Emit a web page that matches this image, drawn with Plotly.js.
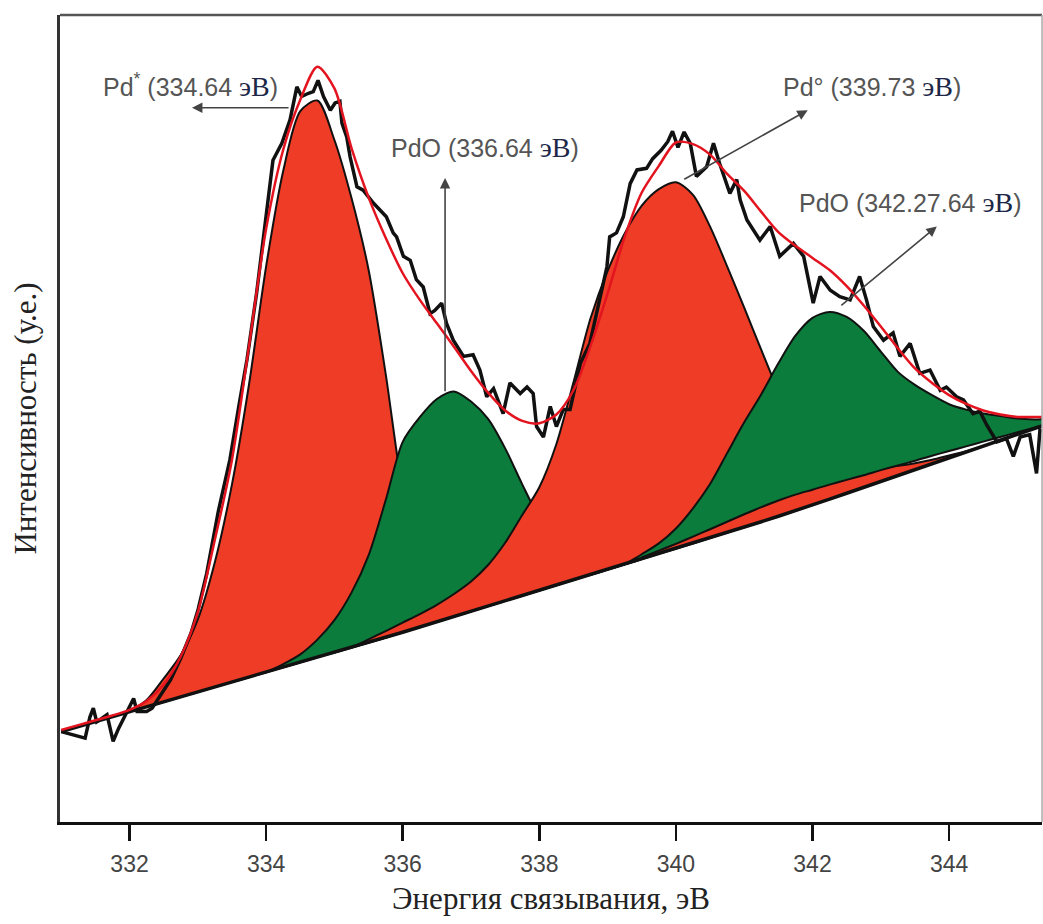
<!DOCTYPE html>
<html>
<head>
<meta charset="utf-8">
<script src="https://cdn.plot.ly/plotly-3.0.1.min.js"></script>
<style>
  html, body { margin: 0; padding: 0; background: #ffffff; }
  #chart { width: 1043px; height: 924px; }
</style>
</head>
<body>
<div id="chart"></div>
<script>
// ---- energy grid (eV) used by baseline, envelope and fitted components ----
const energyGrid = [331.00,331.25,331.50,331.75,332.00,332.25,332.50,332.75,333.00,333.25,
  333.50,333.75,334.00,334.25,334.50,334.75,335.00,335.25,335.50,335.75,
  336.00,336.25,336.50,336.75,337.00,337.25,337.50,337.75,338.00,338.25,
  338.50,338.75,339.00,339.25,339.50,339.75,340.00,340.25,340.50,340.75,
  341.00,341.25,341.50,341.75,342.00,342.25,342.50,342.75,343.00,343.25,
  343.50,343.75,344.00,344.25,344.50,344.75,345.00,345.25,345.50];

// linear background (arb. units)
const baseline = [11.20,11.81,12.43,13.04,13.65,14.26,14.88,15.49,16.10,16.72,
  17.33,17.94,18.56,19.17,19.78,20.40,21.01,21.62,22.24,22.86,
  23.51,24.16,24.81,25.45,26.10,26.75,27.40,28.04,28.69,29.34,
  29.99,30.63,31.28,31.93,32.58,33.22,33.87,34.52,35.18,35.86,
  36.53,37.21,37.89,38.57,39.28,40.01,40.74,41.47,42.20,42.93,
  43.66,44.39,45.12,45.85,46.58,47.31,48.04,48.77,49.50];

// fitted component heights above background
const pd334 = [0,0,0,0,0,0.85,2.9,5.2,9.0,15.5,
  24.5,36.3,50.3,61.5,68.3,69.0,63.5,55.7,46.2,32.7,
  17.5,7.8,3.7,1.5,0.6,0.2,0,0,0,0,
  0,0,0,0,0,0,0,0,0,0,
  0,0,0,0,0,0,0,0,0,0,
  0,0,0,0,0,0,0,0,0];
const pdo336 = [0,0,0,0,0,0,0,0,0,0,
  0,0,0,0.4,1.0,2.2,4.0,6.8,10.8,17.0,
  23.6,26.0,27.6,27.9,26.0,23.2,18.9,13.8,9.0,5.4,
  3.0,1.5,0.6,0.2,0,0,0,0,0,0,
  0,0,0,0,0,0,0,0,0,0,
  0,0,0,0,0,0,0,0,0];
const pd340 = [0,0,0,0,0,0,0,0,0,0,
  0,0,0,0,0,0,0,0,0.4,0.8,
  1.2,1.6,2.1,2.8,3.7,5.1,7.2,10.0,12.8,17.5,
  24.5,31.8,37.0,41.0,43.8,45.2,45.4,43.2,38.6,33.0,
  27.2,21.3,15.5,10.5,6.8,4.4,3.0,2.2,1.7,1.2,
  0.8,0.5,0.3,0.1,0,0,0,0,0];
const pdo342 = [0,0,0,0,0,0,0,0,0,0,
  0,0,0,0,0,0,0,0,0,0,
  0,0,0,0,0,0,0,0,0,0,
  0,0,0,0,0.4,0.9,1.9,3.5,5.6,8.5,
  11.4,14.0,17.0,19.7,21.3,21.4,20.2,17.9,14.7,11.6,
  9.4,7.5,5.8,4.55,3.5,2.6,1.7,1.0,0.4];
const pdo342Offset = [0,0,0,0,0,0,0,0,0,0,
  0,0,0,0,0,0,0,0,0,0,
  0,0,0,0,0,0,0,0,0,0,
  0,0,0,0,0.2,0.4,0.6,0.85,1.1,1.35,
  1.6,1.8,1.95,2.0,1.9,1.8,1.65,1.5,1.4,1.25,
  1.1,1.0,0.85,0.7,0.55,0.4,0.25,0.1,0];

// fitted envelope
const envelope = [11.4,12.0,12.6,13.2,13.9,15.0,17.0,20.5,26.0,35.0,
  44.9,59.0,73.5,83.3,89.5,93.6,90.9,83.5,77.4,72.4,
  68.0,64.7,61.8,58.9,55.9,53.2,51.0,49.7,49.4,50.5,
  53.5,59.0,65.5,72.5,78.0,81.3,84.2,84.0,82.7,80.3,
  78.2,75.6,73.1,71.4,69.9,68.4,66.4,64.0,61.4,58.7,
  56.2,54.4,52.9,51.8,51.0,50.5,50.2,50.2,50.2];

// measured spectrum
const dataEnergy = [331.00,331.20,331.35,331.42,331.47,331.52,331.67,331.76,331.84,331.93,
  332.06,332.11,332.25,332.33,332.45,332.60,332.75,332.90,333.00,333.13,
  333.30,333.47,333.60,333.72,333.86,333.98,334.10,334.23,334.35,334.45,
  334.52,334.62,334.69,334.76,334.84,334.94,335.01,335.08,335.11,335.18,
  335.23,335.33,335.42,335.57,335.66,335.76,335.86,335.91,336.01,336.11,
  336.20,336.30,336.40,336.47,336.57,336.64,336.74,336.89,337.03,337.13,
  337.23,337.33,337.47,337.57,337.72,337.82,337.91,337.96,338.06,338.16,
  338.25,338.35,338.45,338.60,338.74,338.89,338.99,339.03,339.13,339.23,
  339.33,339.43,339.57,339.66,339.78,339.88,339.95,340.03,340.12,340.21,
  340.30,340.45,340.55,340.64,340.79,340.89,340.94,341.04,341.23,341.38,
  341.52,341.72,341.87,342.01,342.11,342.26,342.40,342.55,342.69,342.79,
  342.89,343.04,343.18,343.28,343.43,343.57,343.72,343.87,343.96,344.11,
  344.21,344.35,344.45,344.55,344.70,344.84,344.94,345.04,345.18,345.28,
  345.33,345.40];
const dataCounts = [11.2,10.8,10.4,13.0,14.1,12.4,13.3,10.0,11.6,13.1,
  15.3,13.7,13.7,14.1,15.6,17.6,20.3,23.4,26.2,30.8,
  38.5,44.9,51.5,57.3,65.5,73.8,82.0,84.1,87.0,91.1,
  89.9,90.3,90.5,91.9,89.9,88.2,89.1,89.3,86.6,84.9,
  82.4,78.7,78.3,76.7,75.9,75.0,73.0,72.5,70.1,69.6,
  67.2,66.3,63.0,63.4,64.3,61.8,59.7,57.7,57.9,56.0,
  52.7,53.7,50.6,54.4,53.1,53.9,53.1,49.0,47.7,51.5,
  49.0,51.1,51.1,56.8,59.3,65.1,68.8,72.5,73.0,75.0,
  79.1,80.8,81.0,82.2,83.2,84.3,85.6,83.6,85.5,84.1,
  80.0,81.2,84.1,81.6,77.9,79.6,77.1,74.6,72.1,73.8,
  70.1,71.7,70.1,64.3,67.6,65.9,65.1,64.7,67.6,64.7,
  61.4,59.7,60.6,57.7,59.3,55.6,56.0,53.5,53.9,52.7,
  52.3,50.6,50.9,49.2,47.1,47.5,45.3,47.7,48.0,43.2,
  48.6,48.3];

// peak labels
const labelTexts = ['Pd<sup>*</sup> (334.64 ', 'PdO (336.64 ', 'Pd° (339.73 ', 'PdO (342.27.64 '];
const labelX = [332.886, 337.20, 342.87, 343.43];
const labelY = [91.3, 83.6, 91.2, 76.8];
const arrowHeadX = [332.915, 336.62, 341.93, 343.82];
const arrowHeadY = [88.5, 79.8, 88.2, 73.8];
const arrowTailX = [334.35, 336.62, 340.10, 342.40];
const arrowTailY = [88.5, 53.2, 79.55, 63.85];

const RED = '#ee3c26';
const GREEN = '#0b7c3b';
const SANS = 'Liberation Sans, Arial, sans-serif';
const SERIF = 'Liberation Serif, Times New Roman, serif';

function componentPolygon(h, off) {
  const n = energyGrid.length;
  let i0 = h.findIndex(v => v > 0);
  let i1 = n - 1 - h.slice().reverse().findIndex(v => v > 0);
  i0 = Math.max(0, i0 - 1);
  i1 = Math.min(n - 1, i1 + 1);
  const xs = [], ys = [];
  for (let i = i0; i <= i1; i++) {
    xs.push(energyGrid[i]);
    ys.push(baseline[i] + (off ? off[i] : 0) + h[i]);
  }
  for (let i = i1; i >= i0; i--) {
    if ((i === i0 || i === i1) && h[i] === 0) continue;
    xs.push(energyGrid[i]);
    ys.push(baseline[i] + (off ? off[i] : 0));
  }
  return { xs, ys };
}

function compTrace(h, color, off) {
  const p = componentPolygon(h, off);
  return {
    x: p.xs, y: p.ys, type: 'scatter', mode: 'lines',
    fill: 'toself', fillcolor: color,
    line: { color: '#111', width: 2, shape: 'spline', smoothing: 0.8 },
    hoverinfo: 'skip', showlegend: false
  };
}

const traces = [
  compTrace(pd334, RED),
  compTrace(pdo336, GREEN),
  compTrace(pd340, RED),
  compTrace(pdo342, GREEN, pdo342Offset),
  { x: energyGrid, y: baseline, type: 'scatter', mode: 'lines',
    line: { color: '#111', width: 3.5 }, hoverinfo: 'skip', showlegend: false },
  { x: dataEnergy, y: dataCounts, type: 'scatter', mode: 'lines',
    line: { color: '#111', width: 3.5, shape: 'linear' }, hoverinfo: 'skip', showlegend: false },
  { x: energyGrid, y: envelope, type: 'scatter', mode: 'lines',
    line: { color: '#e3141f', width: 2.5, shape: 'spline', smoothing: 0.8 }, hoverinfo: 'skip', showlegend: false }
];

const annotations = [];
for (let i = 0; i < labelTexts.length; i++) {
  annotations.push({
    x: arrowHeadX[i], y: arrowHeadY[i], xref: 'x', yref: 'y',
    ax: arrowTailX[i], ay: arrowTailY[i], axref: 'x', ayref: 'y',
    text: '', showarrow: true, arrowhead: 2, arrowsize: 1.3, arrowwidth: 1.6,
    arrowcolor: '#444', standoff: 0, startstandoff: 0
  });
  annotations.push({
    x: labelX[i], y: labelY[i], xref: 'x', yref: 'y', showarrow: false,
    xanchor: 'center', yanchor: 'middle',
    text: labelTexts[i] + '<span style="font-family:Liberation Serif;font-size:28px;color:#1d2747">эВ</span>)',
    font: { family: SANS, size: 25, color: '#555555' }
  });
}

const layout = {
  width: 1043, height: 924,
  margin: { l: 60, r: 1, t: 15, b: 102 },
  paper_bgcolor: '#ffffff', plot_bgcolor: '#ffffff',
  showlegend: false,
  xaxis: {
    range: [330.982, 345.36], autorange: false,
    tickvals: [332, 334, 336, 338, 340, 342, 344],
    ticktext: ['332', '334', '336', '338', '340', '342', '344'],
    ticks: 'outside', ticklen: 16, tickwidth: 2.5, tickcolor: '#111',
    ticklabelstandoff: 3,
    tickfont: { family: SANS, size: 23, color: '#444444' },
    showline: true, linecolor: '#111', linewidth: 3,
    showgrid: false, zeroline: false,
    title: { text: 'Энергия связывания, эВ', font: { family: SERIF, size: 31, color: '#222222' }, standoff: 12 }
  },
  yaxis: {
    range: [0, 100], autorange: false,
    showticklabels: false, ticks: '',
    showline: true, linecolor: '#333', linewidth: 3,
    showgrid: false, zeroline: false,
    title: { text: 'Интенсивность (у.е.)', font: { family: SERIF, size: 31, color: '#222222' }, standoff: 12 }
  },
  shapes: [
    { type: 'line', xref: 'paper', yref: 'paper', x0: 0, x1: 1, y0: 1, y1: 1,
      line: { color: '#555555', width: 2.5 } },
    { type: 'line', xref: 'paper', yref: 'paper', x0: 1, x1: 1, y0: 0, y1: 1,
      line: { color: '#aaaaaa', width: 1.5 } }
  ],
  annotations: annotations
};

Plotly.newPlot('chart', traces, layout, { displayModeBar: false, staticPlot: true });
</script>
</body>
</html>
